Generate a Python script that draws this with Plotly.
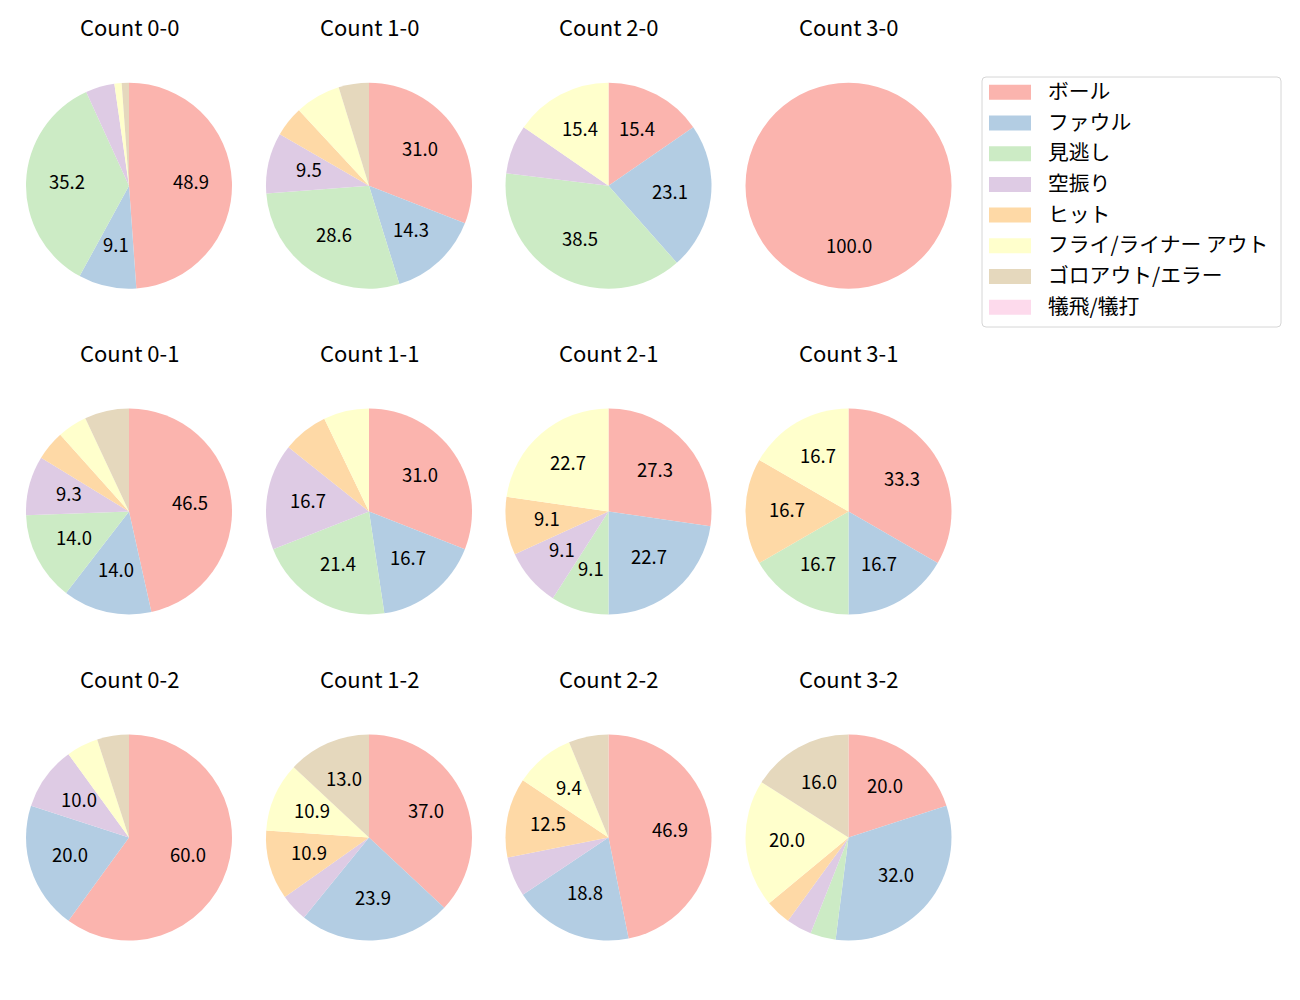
import math
import plotly.graph_objects as go

# the page body adds an 8px margin, so the figure is drawn 8px smaller
OFF = 8
W, H = 1300 - OFF, 1000 - OFF

labels = ["ボール", "ファウル", "見逃し", "空振り", "ヒット",
          "フライ/ライナー アウト", "ゴロアウト/エラー", "犠飛/犠打"]
colors = ["#fbb4ae", "#b3cde3", "#ccebc5", "#decbe4", "#fed9a6",
          "#ffffcc", "#e5d8bd", "#fddaec"]

# counts per pitch type, same order as labels
count_0_0 = [43, 8, 31, 4, 0, 1, 1, 0]
count_1_0 = [13, 6, 12, 4, 2, 3, 2, 0]
count_2_0 = [2, 3, 5, 1, 0, 2, 0, 0]
count_3_0 = [3, 0, 0, 0, 0, 0, 0, 0]
count_0_1 = [20, 6, 6, 4, 2, 2, 3, 0]
count_1_1 = [13, 7, 9, 7, 3, 3, 0, 0]
count_2_1 = [6, 5, 2, 2, 2, 5, 0, 0]
count_3_1 = [2, 1, 1, 0, 1, 1, 0, 0]
count_0_2 = [12, 4, 0, 2, 0, 1, 1, 0]
count_1_2 = [17, 11, 0, 2, 5, 5, 6, 0]
count_2_2 = [15, 6, 0, 2, 4, 3, 2, 0]
count_3_2 = [5, 8, 1, 1, 1, 5, 4, 0]

panels = [
    ("Count 0-0", count_0_0), ("Count 1-0", count_1_0),
    ("Count 2-0", count_2_0), ("Count 3-0", count_3_0),
    ("Count 0-1", count_0_1), ("Count 1-1", count_1_1),
    ("Count 2-1", count_2_1), ("Count 3-1", count_3_1),
    ("Count 0-2", count_0_2), ("Count 1-2", count_1_2),
    ("Count 2-2", count_2_2), ("Count 3-2", count_3_2),
]

FONT = "Noto Sans CJK JP"
col_cx = [129, 369, 608.5, 848.5]
row_cy = [185.7, 511.5, 837.5]
R = 103
min_pct = 8  # smaller slices get no label
DY = 2.5     # text baseline nudge


def px(x):
    return (x - OFF) / W


def py(y):
    return 1 - (y - OFF) / H


def text(x, y, s, size, xanchor="center"):
    return dict(x=px(x), y=py(y - DY), xref="paper", yref="paper", text=s,
                showarrow=False, xanchor=xanchor, yanchor="middle",
                font=dict(size=size, color="black"))


fig = go.Figure()
annotations = []
shapes = []

for i, (title, vals) in enumerate(panels):
    cx = col_cx[i % 4]
    cy = row_cy[i // 4]
    fig.add_trace(go.Pie(
        labels=labels, values=vals, sort=False, direction="clockwise",
        rotation=0, marker=dict(colors=colors, line=dict(width=0)),
        textinfo="none", hoverinfo="label+percent", showlegend=False,
        domain=dict(x=[px(cx - R), px(cx + R)], y=[py(cy + R), py(cy - R)]),
    ))
    annotations.append(text(cx, cy - 157, title, 22))
    total = sum(vals)
    cum = 0
    for v in vals:
        pct = v / total * 100
        if v > 0 and pct >= min_pct:
            a = (cum + v / 2) / total * 2 * math.pi
            annotations.append(text(cx + 0.6 * R * math.sin(a),
                                    cy - 0.6 * R * math.cos(a),
                                    f"{pct:.1f}", 18.5))
        cum += v

# legend box
x0, x1, y0, y1, rr = 982, 1281, 77, 327, 4
path = (f"M {px(x0 + rr)},{py(y0)} L {px(x1 - rr)},{py(y0)} "
        f"Q {px(x1)},{py(y0)} {px(x1)},{py(y0 + rr)} "
        f"L {px(x1)},{py(y1 - rr)} Q {px(x1)},{py(y1)} {px(x1 - rr)},{py(y1)} "
        f"L {px(x0 + rr)},{py(y1)} Q {px(x0)},{py(y1)} {px(x0)},{py(y1 - rr)} "
        f"L {px(x0)},{py(y0 + rr)} Q {px(x0)},{py(y0)} {px(x0 + rr)},{py(y0)} Z")
shapes.append(dict(type="path", path=path, xref="paper", yref="paper",
                   line=dict(color="#d6d6d6", width=1), fillcolor="white"))
for k, (lab, c) in enumerate(zip(labels, colors)):
    yc = 92.3 + k * 30.7
    shapes.append(dict(type="rect", xref="paper", yref="paper",
                       x0=px(989), x1=px(1031), y0=py(yc - 7.5), y1=py(yc + 7.5),
                       fillcolor=c, line=dict(width=0)))
    annotations.append(text(1046, yc, lab, 20.8, xanchor="left"))

fig.update_layout(
    width=W, height=H, margin=dict(l=0, r=0, t=0, b=0),
    paper_bgcolor="white", plot_bgcolor="white",
    font=dict(family=FONT, color="black"),
    annotations=annotations, shapes=shapes,
)

fig.write_html("out.html")
